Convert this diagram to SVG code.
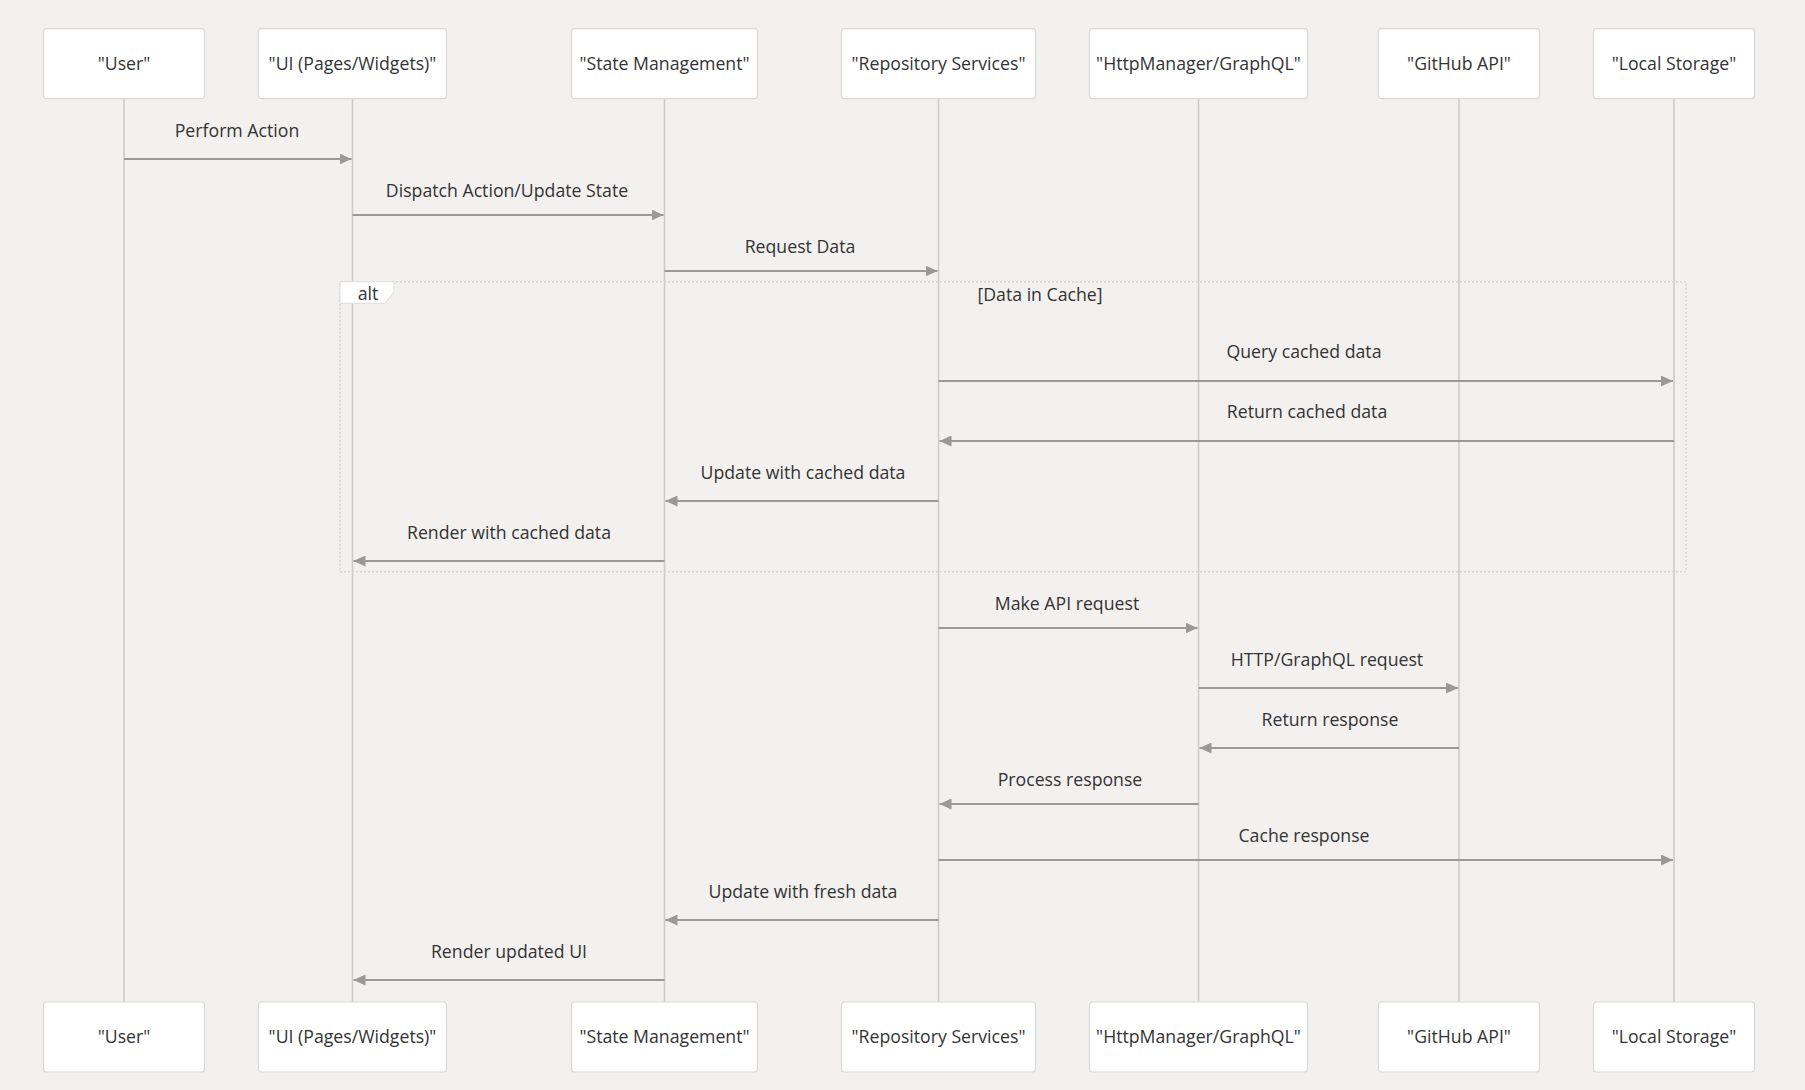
<svg xmlns="http://www.w3.org/2000/svg" width="1805" height="1090" viewBox="0 0 1805 1090">
<style>
  .bg { fill: #f2f1ef; }
  .actor rect { fill: #ffffff; stroke: #d9d9d9; stroke-width: 1.2; }
  .actor text { font-family: "Open Sans", "Liberation Sans", sans-serif; font-size: 17.7px; fill: #333333; text-anchor: middle; }
  .lifeline { stroke: #cccccc; stroke-width: 1.6; }
  .msg line { stroke: #999999; stroke-width: 2; }
  .msg text { font-family: "Open Sans", "Liberation Sans", sans-serif; font-size: 17.7px; fill: #333333; text-anchor: middle; }
  .frame { fill: none; stroke: #d4d4d4; stroke-width: 1.4; stroke-dasharray: 2 2; }
  .framelabel { fill: #ffffff; stroke: #dddddd; stroke-width: 1; }
  .frametext { font-family: "Open Sans", "Liberation Sans", sans-serif; font-size: 17.7px; fill: #333333; text-anchor: middle; }
</style>
<defs>
  <marker id="arrow" markerWidth="12" markerHeight="11" refX="12" refY="5.5" orient="auto" markerUnits="userSpaceOnUse">
    <path d="M0,0 L12,5.5 L0,11 z" fill="#999999"/>
  </marker>
</defs>
<rect class="bg" x="0" y="0" width="1805" height="1090"/>

<g id="lifelines">
  <line class="lifeline" x1="124" y1="98.7" x2="124" y2="1002"/>
  <line class="lifeline" x1="352.5" y1="98.7" x2="352.5" y2="1002"/>
  <line class="lifeline" x1="664.5" y1="98.7" x2="664.5" y2="1002"/>
  <line class="lifeline" x1="938.5" y1="98.7" x2="938.5" y2="1002"/>
  <line class="lifeline" x1="1198.5" y1="98.7" x2="1198.5" y2="1002"/>
  <line class="lifeline" x1="1459" y1="98.7" x2="1459" y2="1002"/>
  <line class="lifeline" x1="1674" y1="98.7" x2="1674" y2="1002"/>
</g>

<g id="alt-frame">
  <rect class="frame" x="340" y="281.7" width="1346" height="290"/>
  <polygon class="framelabel" points="340,281.7 394,281.7 394,292 385,303.3 340,303.3"/>
  <text class="frametext" x="368" y="300">alt</text>
  <text class="frametext" x="1040" y="301">[Data in Cache]</text>
</g>

<g id="connectors" class="msg">
  <line x1="124" y1="159" x2="351.5" y2="159" marker-end="url(#arrow)"/>
  <text x="237" y="137">Perform Action</text>
  <line x1="352.5" y1="215" x2="663.5" y2="215" marker-end="url(#arrow)"/>
  <text x="507" y="197">Dispatch Action/Update State</text>
  <line x1="664.5" y1="271" x2="937.5" y2="271" marker-end="url(#arrow)"/>
  <text x="800" y="253">Request Data</text>

  <line x1="938.5" y1="381" x2="1673" y2="381" marker-end="url(#arrow)"/>
  <text x="1304" y="358">Query cached data</text>
  <line x1="1674" y1="441" x2="939.5" y2="441" marker-end="url(#arrow)"/>
  <text x="1307" y="418">Return cached data</text>
  <line x1="938.5" y1="501" x2="665.5" y2="501" marker-end="url(#arrow)"/>
  <text x="803" y="479">Update with cached data</text>
  <line x1="664.5" y1="561" x2="353.5" y2="561" marker-end="url(#arrow)"/>
  <text x="509" y="539">Render with cached data</text>

  <line x1="938.5" y1="628" x2="1197.5" y2="628" marker-end="url(#arrow)"/>
  <text x="1067" y="610">Make API request</text>
  <line x1="1198.5" y1="688" x2="1458" y2="688" marker-end="url(#arrow)"/>
  <text x="1327" y="666">HTTP/GraphQL request</text>
  <line x1="1459" y1="748" x2="1199.5" y2="748" marker-end="url(#arrow)"/>
  <text x="1330" y="726">Return response</text>
  <line x1="1198.5" y1="804" x2="939.5" y2="804" marker-end="url(#arrow)"/>
  <text x="1070" y="786">Process response</text>
  <line x1="938.5" y1="860" x2="1673" y2="860" marker-end="url(#arrow)"/>
  <text x="1304" y="842">Cache response</text>
  <line x1="938.5" y1="920" x2="665.5" y2="920" marker-end="url(#arrow)"/>
  <text x="803" y="898">Update with fresh data</text>
  <line x1="664.5" y1="980" x2="353.5" y2="980" marker-end="url(#arrow)"/>
  <text x="509" y="958">Render updated UI</text>
</g>

<g id="actor-user-top" class="actor"><rect x="43.5" y="28.7" width="161" height="70" rx="3"/><text x="124" y="70">"User"</text></g>
<g id="actor-ui-top" class="actor"><rect x="258.5" y="28.7" width="188" height="70" rx="3"/><text x="352.5" y="70">"UI (Pages/Widgets)"</text></g>
<g id="actor-state-top" class="actor"><rect x="571.5" y="28.7" width="186" height="70" rx="3"/><text x="664.5" y="70">"State Management"</text></g>
<g id="actor-repo-top" class="actor"><rect x="841.5" y="28.7" width="194" height="70" rx="3"/><text x="938.5" y="70">"Repository Services"</text></g>
<g id="actor-http-top" class="actor"><rect x="1089.5" y="28.7" width="218" height="70" rx="3"/><text x="1198.5" y="70">"HttpManager/GraphQL"</text></g>
<g id="actor-github-top" class="actor"><rect x="1378.5" y="28.7" width="161" height="70" rx="3"/><text x="1459" y="70">"GitHub API"</text></g>
<g id="actor-local-top" class="actor"><rect x="1593.5" y="28.7" width="161" height="70" rx="3"/><text x="1674" y="70">"Local Storage"</text></g>

<g id="actor-user-bottom" class="actor"><rect x="43.5" y="1002" width="161" height="70" rx="3"/><text x="124" y="1043">"User"</text></g>
<g id="actor-ui-bottom" class="actor"><rect x="258.5" y="1002" width="188" height="70" rx="3"/><text x="352.5" y="1043">"UI (Pages/Widgets)"</text></g>
<g id="actor-state-bottom" class="actor"><rect x="571.5" y="1002" width="186" height="70" rx="3"/><text x="664.5" y="1043">"State Management"</text></g>
<g id="actor-repo-bottom" class="actor"><rect x="841.5" y="1002" width="194" height="70" rx="3"/><text x="938.5" y="1043">"Repository Services"</text></g>
<g id="actor-http-bottom" class="actor"><rect x="1089.5" y="1002" width="218" height="70" rx="3"/><text x="1198.5" y="1043">"HttpManager/GraphQL"</text></g>
<g id="actor-github-bottom" class="actor"><rect x="1378.5" y="1002" width="161" height="70" rx="3"/><text x="1459" y="1043">"GitHub API"</text></g>
<g id="actor-local-bottom" class="actor"><rect x="1593.5" y="1002" width="161" height="70" rx="3"/><text x="1674" y="1043">"Local Storage"</text></g>
</svg>
